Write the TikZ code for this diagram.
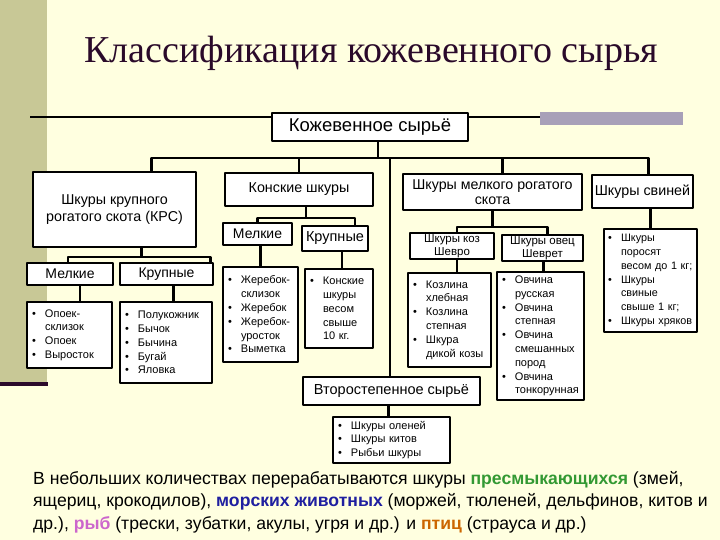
\documentclass[tikz,border=0pt]{standalone}
\usepackage{fontspec}
\setmainfont{Liberation Sans}
\newfontfamily\titlefont{Liberation Serif}
\definecolor{cream}{HTML}{FFFFE0}
\definecolor{strip}{HTML}{C8C896}
\definecolor{stripline}{HTML}{2B0A2B}
\definecolor{greybar}{HTML}{A8A0B8}
\definecolor{titlecol}{HTML}{2A0A2A}
\definecolor{reptile}{HTML}{339933}
\definecolor{marine}{HTML}{1F1FA0}
\definecolor{fishcol}{HTML}{CC66CC}
\definecolor{birdcol}{HTML}{CC6600}
\newcommand{\bl}{\makebox[13pt][l]{\textbullet}}
\newcommand{\cn}{\hspace*{13pt}}
\begin{document}
\begin{tikzpicture}[x=1pt, y=-1pt, line join=round,
	box/.style={draw, line width=2.5pt, fill=white, inner sep=0pt, align=center, font=\fontsize{14.3}{16}\selectfont},
	lst/.style={draw, line width=2.5pt, fill=white, inner xsep=5pt, inner ysep=0pt, align=left, font=\fontsize{11}{13.8}\selectfont},
	wire/.style={line width=2.1pt}]
	\useasboundingbox (0,0) rectangle (720,540);
	
	% background of the slide
	\fill[cream] (0,0) rectangle (720,540);
	\fill[strip] (0,0) rectangle (47,382);
	\fill[stripline] (0,382) rectangle (48,386);
	\draw[line width=2pt] (30,117) -- (540,117);
	\fill[greybar] (540,112) rectangle (683,125);
	
	\node[font=\titlefont\fontsize{38}{40}\selectfont, text=titlecol, anchor=base west] (title) at (81,63) {Классификация кожевенного сырья};
	
	% main boxes
	\node[box, minimum width=196, minimum height=28, font=\fontsize{18.5}{20}\selectfont] (root) at (370,127) {Кожевенное сырьё};
	\node[box, minimum width=163, minimum height=75, font=\fontsize{14.3}{17}\selectfont] (krs) at (114.5,209.5) {Шкуры крупного\\рогатого скота (КРС)};
	\node[box, minimum width=148, minimum height=33] (kon) at (299,189.5) {Конские шкуры};
	\node[box, minimum width=179, minimum height=36, font=\fontsize{14.2}{15.5}\selectfont] (mrs) at (492.5,192) {Шкуры мелкого рогатого\\скота};
	\node[box, minimum width=101, minimum height=33] (svin) at (642.5,191.5) {Шкуры свиней};
	\node[box, minimum width=177, minimum height=28, font=\fontsize{14.5}{16}\selectfont] (vtor) at (391.5,391) {Второстепенное сырьё};
	
	% second level
	\node[box, minimum width=86, minimum height=22, font=\fontsize{14}{16}\selectfont] (krsM) at (70,274) {Мелкие};
	\node[box, minimum width=93, minimum height=22, font=\fontsize{14}{16}\selectfont] (krsK) at (166.5,274) {Крупные};
	\node[box, minimum width=69, minimum height=22, font=\fontsize{14}{16}\selectfont] (konM) at (257.5,234) {Мелкие};
	\node[box, minimum width=66, minimum height=25, font=\fontsize{14.5}{16}\selectfont] (konK) at (335,238.5) {Крупные};
	\node[box, minimum width=84, minimum height=26, font=\fontsize{11.5}{12.5}\selectfont] (koz) at (452,246) {Шкуры коз\\Шевро};
	\node[box, minimum width=81, minimum height=26, font=\fontsize{11.5}{12.5}\selectfont] (ovc) at (542.5,248) {Шкуры овец\\Шеврет};
	
	% lists
	\node[lst, text width=75, minimum height=66] (krsML) at (69.5,335) {\bl Опоек-\\\cn склизок\\\bl Опоек\\\bl Выросток};
	\node[lst, text width=82, minimum height=81] (krsKL) at (166,342.5) {\bl Полукожник\\\bl Бычок\\\bl Бычина\\\bl Бугай\\\bl Яловка};
	\node[lst, text width=65, minimum height=95] (konML) at (260.5,314.5) {\bl Жеребок-\\\cn склизок\\\bl Жеребок\\\bl Жеребок-\\\cn уросток\\\bl Выметка};
	\node[lst, text width=58, minimum height=79] (konKL) at (339,308.5) {\bl Конские\\\cn шкуры\\\cn весом\\\cn свыше\\\cn 10 кг.};
	\node[lst, text width=73, minimum height=94] (kozL) at (449.5,320) {\bl Козлина\\\cn хлебная\\\bl Козлина\\\cn степная\\\bl Шкура\\\cn \mbox{дикой козы}};
	\node[lst, text width=77, minimum height=128] (ovcL) at (540.5,336) {\bl Овчина\\\cn русская\\\bl Овчина\\\cn степная\\\bl Овчина\\\cn смешанных\\\cn пород\\\bl Овчина\\\cn тонкорунная};
	\node[lst, text width=85, minimum height=103, inner xsep=4pt, font=\fontsize{10.8}{13.8}\selectfont] (svinL) at (650.5,280.5) {\bl Шкуры\\\cn поросят\\\cn \mbox{весом до 1 кг;}\\\bl Шкуры\\\cn свиные\\\cn \mbox{свыше 1 кг;}\\\bl \mbox{Шкуры хряков}};
	\node[lst, text width=107, minimum height=46] (vtorL) at (391.5,440) {\bl Шкуры оленей\\\bl Шкуры китов\\\bl Рыбьи шкуры};
	
	% connectors
	\coordinate (top) at (0,158);
	\draw[wire] ([xshift=37]krs.north) |- ([xshift=6]svin.north |- top) -- ([xshift=6]svin.north);
	\draw[wire] ([xshift=8]root.south) -- ([xshift=8]root.south |- top);
	\draw[wire] (kon.north) -- (kon.north |- top);
	\draw[wire] ([xshift=10]mrs.north) -- ([xshift=10]mrs.north |- top);
	\draw[wire] ([xshift=-1.5]vtor.north) -- ([xshift=-1.5]vtor.north |- top);
	
	\draw[wire] ([xshift=27]krs.south) -- ++(0,9) coordinate (k1);
	\draw[wire] ([xshift=-2]krsM.north) |- ([xshift=44]krsK.north |- k1) -- ([xshift=44]krsK.north);
	\draw[wire] ([xshift=7]kon.south) -- ++(0,11) coordinate (k2);
	\draw[wire] (konM.north) |- ([xshift=20]konK.north |- k2) -- ([xshift=20]konK.north);
	\draw[wire] (mrs.south) -- ++(0,16) coordinate (k3);
	\draw[wire] ([xshift=5]koz.north) |- ([xshift=5]ovc.north |- k3) -- ([xshift=5]ovc.north);
	
	\foreach \a/\b/\s in {krsM/krsML/10, krsK/krsKL/7, konM/konML/3, konK/konKL/7, koz/kozL/5, ovc/ovcL/1, svin/svinL/8, vtor/vtorL/-3}
	\draw[wire] ([xshift=\s]\a.south) -- ([xshift=\s]\a.south |- \b.north);
	
	% note at the bottom
	\node[anchor=base west, align=left, inner sep=0pt, font=\fontsize{17.6}{22.5}\selectfont] (note) at (33,529) {В небольших количествах перерабатываются шкуры \textbf{\textcolor{reptile}{пресмыкающихся}} (змей,\\ящериц, крокодилов), \textbf{\textcolor{marine}{морских животных}} (моржей, тюленей, дельфинов, китов и\\др.), \textbf{\textcolor{fishcol}{рыб}} (трески, зубатки, акулы, угря и др.) и \textbf{\textcolor{birdcol}{птиц}} (страуса и др.)};
\end{tikzpicture}
\end{document}
